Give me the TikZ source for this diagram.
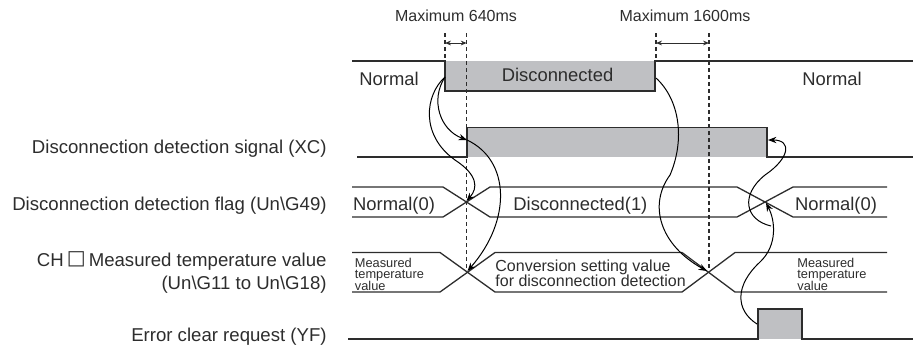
\documentclass[tikz,border=0pt]{standalone}
\usepackage{fontspec}
\setmainfont{Liberation Sans}
\newfontfamily\boxsym{DejaVu Sans}
\usetikzlibrary{arrows.meta}
\definecolor{boxgray}{RGB}{191,192,195}
\definecolor{inkgray}{RGB}{45,45,45}
\newcommand\tightlines{\lineskiplimit=-10pt\relax}
\begin{document}
\begin{tikzpicture}[x=.5pt,y=-.5pt,every node/.style={inner sep=0pt,text=inkgray},
		lbl/.style={anchor=base east,font=\fontsize{9.3}{11}\selectfont},
		val/.style={anchor=base,font=\fontsize{9.2}{11}\selectfont},
		maxlbl/.style={anchor=base,font=\fontsize{8}{10}\selectfont},
		conv/.style={anchor=north west,align=left,font=\fontsize{8}{7.65}\selectfont\tightlines},
		tiny/.style={anchor=north west,align=left,font=\fontsize{6.4}{5.75}\selectfont\tightlines},
		sig/.style={draw=inkgray,line width=.65pt},
		hint/.style={draw=inkgray,line width=.55pt,dash pattern=on 2pt off 1.5pt},
		span/.style={draw=inkgray,line width=.5pt,{Stealth[length=3pt,width=2.4pt]}-{Stealth[length=3pt,width=2.4pt]}},
		cause/.style={draw=black,line width=.5pt,-{Stealth[length=4.2pt,width=3.2pt]}}]
	\useasboundingbox (0,0) rectangle (913,345);
	\node[lbl] (xcL) at (327,153) {Disconnection detection signal (XC)};
	\node[lbl] (flagL) at (327,210) {Disconnection detection flag (Un\textbackslash G49)};
	\node[lbl] (tmpL) at (327,266) {CH\,\raisebox{.7pt}{\boxsym\fontsize{10}{11}\selectfont □}\,Measured temperature value};
	\node[lbl] (tmpL2) at (327,289) {(Un\textbackslash G11 to Un\textbackslash G18)};
	\node[lbl] (yfL) at (327,341) {Error clear request (YF)};
	\node[maxlbl] (max1) at (456,21.7) {Maximum 640ms};
	\node[maxlbl] (max2) at (685,21.7) {Maximum 1600ms};
	\fill[boxgray] (445,61) rectangle (655,91);
	\fill[boxgray] (467,127.5) rectangle (767,157);
	\fill[boxgray] (758,309) rectangle (802,339);
	\draw[sig] (352,61) -- (445,61) -- (445,91) -- (655,91) -- (655,61) -- (913,61);
	\draw[sig] (357,157) -- (467,157) -- (467,127.5) -- (767,127.5) -- (767,157) -- (913,157);
	\draw[sig] (352,187) -- (443,187) -- (490,217) -- (737,217) -- (793,187) -- (887,187);
	\draw[sig] (352,217) -- (443,217) -- (490,187) -- (737,187) -- (793,217) -- (887,217);
	\draw[sig] (352,252.5) -- (440,252.5) -- (495,292) -- (682,292) -- (735,252.5) -- (887,252.5);
	\draw[sig] (352,292) -- (440,292) -- (495,252.5) -- (682,252.5) -- (735,292) -- (887,292);
	\draw[sig] (348,339) -- (758,339) -- (758,309) -- (802,309) -- (802,339) -- (913,339);
	\node[val] (wireL) at (389,85) {Normal};
	\node[val] (wireM) at (557.5,81.7) {Disconnected};
	\node[val] (wireR) at (832,85) {Normal};
	\node[val] (flagA0) at (394,210) {Normal(0)};
	\node[val,anchor=base west] (flagM) at (513,210) {Disconnected(1)};
	\node[val] (flagB0) at (836,210) {Normal(0)};
	\node[tiny] (tmpA0) at (354.5,257.5) {Measured\\temperature\\value};
	\node[conv] (tmpM) at (495,259.5) {Conversion setting value\\for disconnection detection};
	\node[tiny] (tmpB0) at (797,257.5) {Measured\\temperature\\value};
	\draw[hint] (445,33) -- (445,61);
	\draw[hint] (466.7,33) -- (466.7,270);
	\draw[hint] (656,33) -- (656,61);
	\draw[hint] (709,33) -- (709,270);
	\draw[span] (445,43) -- (466.7,43);
	\draw[span] (656,43) -- (709,43);
	\coordinate (dsOff) at (445,77);
	\coordinate (dsOn) at (656,78);
	\coordinate (xcUp) at (467,140);
	\coordinate (xcDn) at (768,140);
	\coordinate (flagA) at (466.5,201);
	\coordinate (flagB) at (766,203);
	\coordinate (tmpA) at (467.5,271);
	\coordinate (tmpB) at (707,271);
	\coordinate (yfUp) at (757,324);
	\coordinate (loopA) at (771,226);
	\draw[cause] (dsOff) .. controls (430,100) and (440,130) .. (xcUp);
	\draw[cause] (dsOff) .. controls (425,95) and (420,135) .. (455,160) .. controls (478,175) and (478,188) .. (flagA);
	\draw[cause] (xcUp) .. controls (510,160) and (512,220) .. (tmpA);
	\draw[cause] (dsOn) .. controls (680,100) and (685,140) .. (670,175) .. controls (648,205) and (660,245) .. (tmpB);
	\draw[cause] (yfUp) .. controls (735,310) and (735,285) .. (760,262) .. controls (778,245) and (775,220) .. (flagB);
	\draw[cause] (loopA) .. controls (745,220) and (740,195) .. (765,175) .. controls (790,158) and (792,140) .. (xcDn);
\end{tikzpicture}
\end{document}
